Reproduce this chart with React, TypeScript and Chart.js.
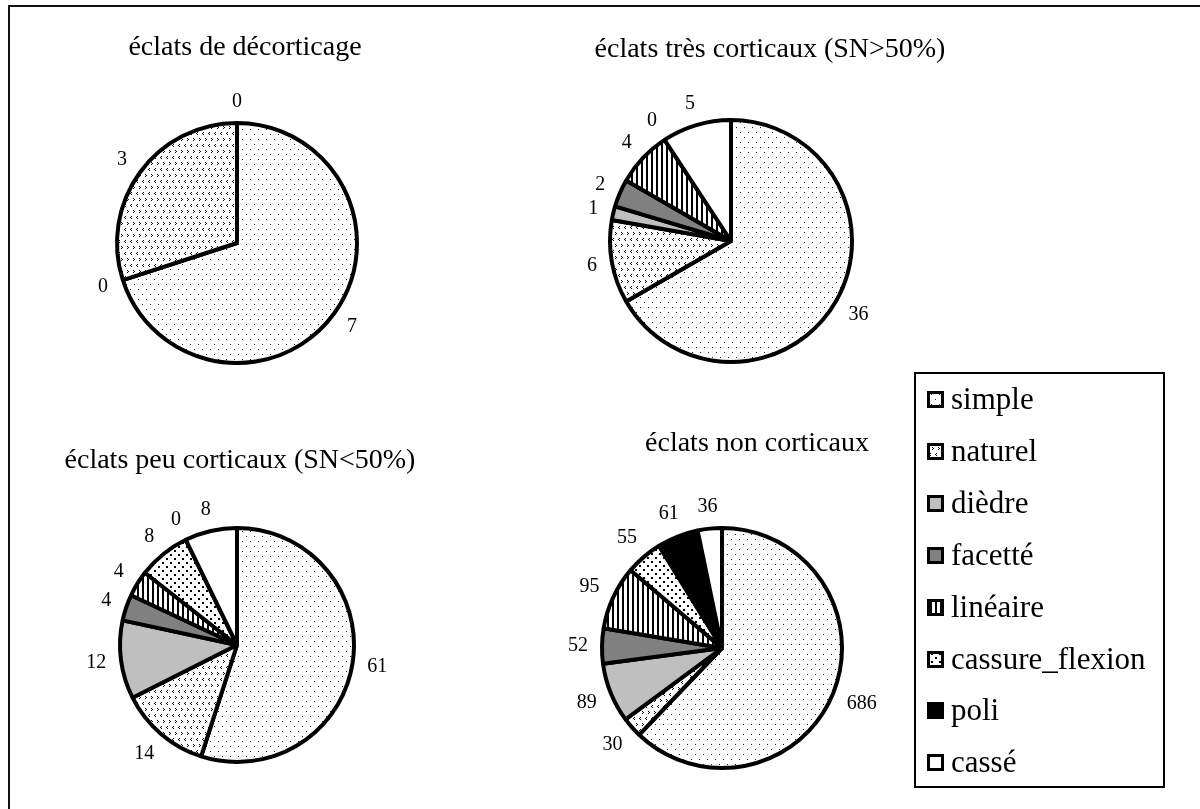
import React, { useEffect, useRef } from "react";
import { Chart, registerables } from "chart.js";

Chart.register(...registerables);

// ---------- data ----------
const CATEGORIES = ["simple", "naturel", "dièdre", "facetté", "linéaire", "cassure_flexion", "poli", "cassé"];

const TITLE_DECORTICAGE = "éclats de décorticage";
const CATS_DECORTICAGE = ["simple", "dièdre", "naturel", "cassé"];
const VALUES_DECORTICAGE = [7, 0, 3, 0];

const TITLE_TRES = "éclats très corticaux (SN>50%)";
const CATS_TRES = ["simple", "naturel", "dièdre", "facetté", "linéaire", "cassure_flexion", "cassé"];
const VALUES_TRES = [36, 6, 1, 2, 4, 0, 5];

const TITLE_PEU = "éclats peu corticaux (SN<50%)";
const CATS_PEU = CATEGORIES;
const VALUES_PEU = [61, 14, 12, 4, 4, 8, 0, 8];

const TITLE_NON = "éclats non corticaux";
const CATS_NON = CATEGORIES;
const VALUES_NON = [686, 30, 89, 52, 95, 55, 61, 36];

const FONT = '"Liberation Serif", "Times New Roman", serif';

// ---------- fills ----------
function tile(w: number, h: number, draw: (x: CanvasRenderingContext2D) => void): CanvasPattern {
  const c = document.createElement("canvas");
  c.width = w;
  c.height = h;
  const x = c.getContext("2d")!;
  x.fillStyle = "#fff";
  x.fillRect(0, 0, w, h);
  x.fillStyle = "#000";
  draw(x);
  return x.createPattern(c, "repeat")!;
}

let FILLS: Record<string, string | CanvasPattern> | null = null;
function getFills() {
  if (FILLS) return FILLS;
  FILLS = {
    simple: tile(8, 10, (x) => {
      x.fillStyle = "#222";
      x.fillRect(1, 1, 1, 1);
      x.fillRect(5, 6, 1, 1);
    }),
    naturel: tile(6, 12, (x) => {
      x.fillRect(2, 1, 1, 1);
      x.fillRect(1, 2, 1, 1);
      x.fillRect(2, 3, 1, 1);
      x.fillRect(4, 7, 1, 1);
      x.fillRect(5, 8, 1, 1);
      x.fillRect(4, 9, 1, 1);
    }),
    "dièdre": "#bfbfbf",
    "facetté": "#808080",
    "linéaire": tile(5, 4, (x) => {
      x.fillRect(0, 0, 2, 4);
    }),
    cassure_flexion: tile(8, 8, (x) => {
      x.fillRect(1, 1, 2, 2);
      x.fillRect(5, 5, 2, 2);
    }),
    poli: "#000",
    "cassé": "#fff",
  };
  return FILLS;
}

// ---------- plugins ----------
const sliceLabels = {
  id: "sliceLabels",
  afterDatasetsDraw(chart: any, _args: any, opts: any) {
    const { ctx } = chart;
    const meta = chart.getDatasetMeta(0);
    const data = chart.data.datasets[0].data as number[];
    const gap = opts.gap ?? 14;
    const halfH = 7;
    ctx.save();
    ctx.font = `${opts.size || 20}px ${FONT}`;
    ctx.fillStyle = "#000";
    ctx.textAlign = "center";
    ctx.textBaseline = "middle";
    meta.data.forEach((arc: any, i: number) => {
      const v = data[i];
      if (v == null) return;
      const p = arc.getProps(["x", "y", "startAngle", "endAngle", "outerRadius"], true);
      const mid = (p.startAngle + p.endAngle) / 2;
      const txt = String(v);
      const w = ctx.measureText(txt).width;
      const c = Math.cos(mid);
      const s = Math.sin(mid);
      const rr = p.outerRadius + gap + (w / 2) * Math.abs(c) + halfH * Math.abs(s);
      ctx.fillText(txt, p.x + c * rr, p.y + s * rr);
    });
    ctx.restore();
  },
};

const pieTitle = {
  id: "pieTitle",
  afterDraw(chart: any, _args: any, opts: any) {
    const { ctx } = chart;
    ctx.save();
    ctx.font = `${opts.size}px ${FONT}`;
    ctx.fillStyle = "#000";
    ctx.textAlign = "center";
    ctx.textBaseline = "alphabetic";
    ctx.fillText(opts.text, opts.x, opts.y);
    ctx.restore();
  },
};

// ---------- components ----------
const W = 480;
const H = 480;
const PAD_TOP = 80;

function PieChart(props: {
  title: string;
  cats: string[];
  values: number[];
  cx: number;
  cy: number;
  r: number;
  titleX: number;
  titleBaseline: number;
}) {
  const ref = useRef<HTMLCanvasElement>(null);
  const left = props.cx - W / 2;
  const top = props.cy - (PAD_TOP + (H - PAD_TOP) / 2);
  useEffect(() => {
    const fills = getFills();
    const chart = new Chart(ref.current!, {
      type: "pie",
      data: {
        labels: props.cats,
        datasets: [
          {
            data: props.values,
            backgroundColor: props.cats.map((c) => fills[c]) as any,
            borderColor: "#000",
            borderWidth: 4,
            radius: props.r,
          } as any,
        ],
      },
      options: {
        responsive: false,
        animation: false,
        events: [],
        radius: props.r,
        layout: { padding: { top: PAD_TOP, left: 0, right: 0, bottom: 0 } },
        plugins: {
          legend: { display: false },
          tooltip: { enabled: false },
          title: { display: false },
          sliceLabels: { gap: 14, size: 20 },
          pieTitle: { text: props.title, size: 28, x: props.titleX - left, y: props.titleBaseline - top },
        } as any,
      } as any,
      plugins: [sliceLabels as any, pieTitle as any],
    });
    return () => chart.destroy();
  }, []);
  return (
    <canvas
      ref={ref}
      width={W}
      height={H}
      style={{ position: "absolute", left, top, width: W, height: H }}
    />
  );
}

// legend layout (page coordinates)
const LEG_LEFT = 910;
const LEG_TOP = 368;
const LEG_W = 260;
const LEG_H = 424;

function Legend() {
  const ref = useRef<HTMLCanvasElement>(null);
  useEffect(() => {
    const x = ref.current!.getContext("2d")!;
    const fills = getFills();
    const ox = -LEG_LEFT;
    const oy = -LEG_TOP;
    x.fillStyle = "#fff";
    x.fillRect(0, 0, LEG_W, LEG_H);
    x.strokeStyle = "#000";
    x.lineWidth = 2;
    x.strokeRect(915 + ox, 373 + oy, 249, 414);
    const y0 = 399;
    const step = 51.9;
    CATEGORIES.forEach((c, i) => {
      const yc = Math.round(y0 + i * step);
      x.fillStyle = "#000";
      x.fillRect(927 + ox, yc - 8 + oy, 17, 17);
      x.fillStyle = fills[c] as any;
      x.fillRect(930 + ox, yc - 5 + oy, 11, 11);
      x.fillStyle = "#000";
      x.font = `31px ${FONT}`;
      x.textAlign = "left";
      x.textBaseline = "alphabetic";
      x.fillText(c, 951 + ox, yc + 9.5 + oy);
    });
  }, []);
  return (
    <canvas
      ref={ref}
      width={LEG_W}
      height={LEG_H}
      style={{ position: "absolute", left: LEG_LEFT, top: LEG_TOP, width: LEG_W, height: LEG_H }}
    />
  );
}

export default function App() {
  return (
    <div
      style={{
        position: "absolute",
        left: 0,
        top: 0,
        width: 1200,
        height: 809,
        overflow: "hidden",
        background: "#fff",
      }}
    >
      <div
        style={{
          position: "absolute",
          left: 8,
          top: 5,
          width: 2000,
          height: 2000,
          border: "2px solid #111",
        }}
      />
      <PieChart title={TITLE_DECORTICAGE} cats={CATS_DECORTICAGE} values={VALUES_DECORTICAGE} cx={237} cy={243} r={120} titleX={245} titleBaseline={55} />
      <PieChart title={TITLE_TRES} cats={CATS_TRES} values={VALUES_TRES} cx={731} cy={241} r={121} titleX={770} titleBaseline={57} />
      <PieChart title={TITLE_PEU} cats={CATS_PEU} values={VALUES_PEU} cx={237} cy={645} r={117} titleX={240} titleBaseline={468} />
      <PieChart title={TITLE_NON} cats={CATS_NON} values={VALUES_NON} cx={722} cy={648} r={120} titleX={757} titleBaseline={451} />
      <Legend />
    </div>
  );
}
